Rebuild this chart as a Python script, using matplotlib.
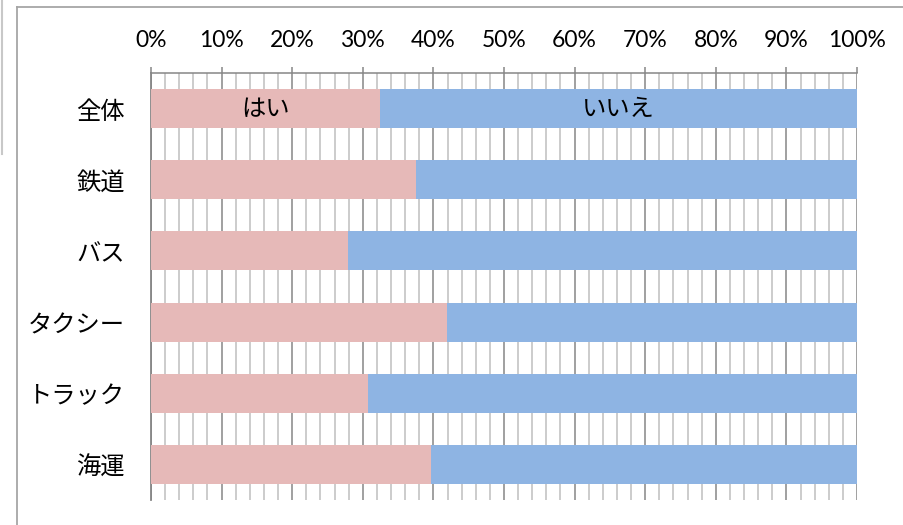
import numpy as np
import matplotlib
matplotlib.use('Agg')
import matplotlib.pyplot as plt
from matplotlib.lines import Line2D
from matplotlib.ticker import MultipleLocator, FuncFormatter

plt.rcParams['font.family'] = ['Noto Sans CJK JP', 'DejaVu Sans']

# データ（はい / いいえ の割合, %）
categories = ['全体', '鉄道', 'バス', 'タクシー', 'トラック', '海運']
yes_pct = [32.5, 37.5, 27.9, 41.9, 30.7, 39.6]
no_pct = [100 - v for v in yes_pct]
bar_labels = ['はい', 'いいえ']

pink = '#E6B9B8'
blue = '#8EB4E3'

fig = plt.figure(figsize=(9.04, 5.25), dpi=100)
ax = fig.add_axes([151 / 904, 1 - 500 / 525, 706 / 904, 427 / 525])

y = np.arange(len(categories))
ax.barh(y, yes_pct, height=0.55, color=pink, zorder=3)
ax.barh(y, no_pct, left=yes_pct, height=0.55, color=blue, zorder=3)

# 全体の行だけにラベル
ax.text(yes_pct[0] / 2, 0, bar_labels[0], ha='center', va='center',
        fontsize=17.5, zorder=4)
ax.text(yes_pct[0] + no_pct[0] / 2, 0, bar_labels[1], ha='center',
        va='center', fontsize=17.5, zorder=4)

ax.set_xlim(0, 100)
ax.set_ylim(len(categories) - 0.5, -0.5)

# 目盛り（上側）
ax.xaxis.tick_top()
ax.xaxis.set_major_locator(MultipleLocator(10))
ax.xaxis.set_minor_locator(MultipleLocator(2))
ax.xaxis.set_major_formatter(FuncFormatter(lambda v, p: f'{v:.0f}%'))
ax.tick_params(axis='x', which='major', length=4.5, width=1.1,
               color='#868686', pad=11)
ax.tick_params(axis='x', which='minor', length=0)
for lab in ax.get_xticklabels():
    lab.set_family(['Lato', 'DejaVu Sans'])
    lab.set_fontsize(16.5)

ax.set_yticks(y)
ax.set_yticklabels(categories, fontsize=17.5)
ax.tick_params(axis='y', length=0, pad=19)

# グリッド
ax.grid(axis='x', which='minor', color='#BFBFBF', lw=1.1, zorder=1)
ax.grid(axis='x', which='major', color='#868686', lw=1.1, zorder=2)
ax.set_axisbelow(True)

for s in ['right', 'bottom']:
    ax.spines[s].set_visible(False)
ax.spines['top'].set_color('#868686')
ax.spines['top'].set_linewidth(1.1)
ax.spines['left'].set_color('#868686')
ax.spines['left'].set_linewidth(1.3)

# 外枠（右下は切れている）
fig.add_artist(Line2D([17.5 / 904, 17.5 / 904], [0, 1 - 7 / 525],
                      color='#A6A6A6', lw=1.3))
fig.add_artist(Line2D([17.5 / 904, 1], [1 - 7 / 525, 1 - 7 / 525],
                      color='#A6A6A6', lw=1.3))
fig.add_artist(Line2D([2.5 / 904, 2.5 / 904], [1 - 154 / 525, 1],
                      color='#C8C8C8', lw=1.5))

fig.savefig('out.png', dpi=100)
